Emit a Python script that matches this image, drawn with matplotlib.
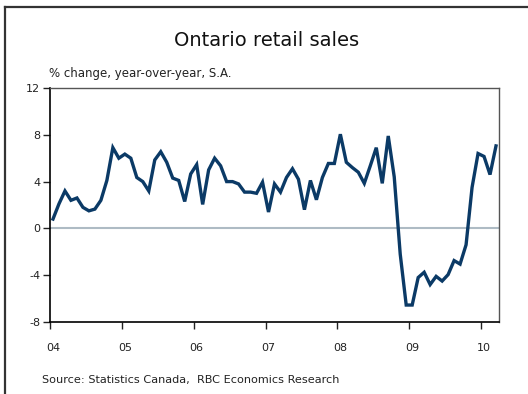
import numpy as np
import matplotlib
matplotlib.use('Agg')
from matplotlib import pyplot as plt
from matplotlib.lines import Line2D
from matplotlib.transforms import ScaledTranslation

# monthly y/y % change, Jan 2004 - Mar 2010
sales = [0.8, 2.1, 3.2, 2.4, 2.6, 1.8, 1.5, 1.65, 2.4, 4.1, 6.9, 6.0,
         6.35, 6.0, 4.35, 4.0, 3.2, 5.85, 6.55, 5.65, 4.3, 4.1, 2.3, 4.65,
         5.45, 2.05, 5.0, 6.0, 5.35, 4.0, 4.0, 3.8, 3.1, 3.1, 3.0, 3.95,
         1.4, 3.8, 3.1, 4.35, 5.1, 4.2, 1.6, 4.1, 2.45, 4.35, 5.55, 5.55,
         8.05, 5.65, 5.2, 4.8, 3.85, 5.35, 6.9, 3.85, 7.9, 4.4, -2.2, -6.55,
         -6.55, -4.2, -3.75, -4.8, -4.1, -4.5, -3.95, -2.75, -3.05, -1.4, 3.5, 6.4,
         6.15, 4.6, 7.05]
year_labels = ['04', '05', '06', '07', '08', '09', '10']
y_ticks = [-8, -4, 0, 4, 8, 12]

months = np.arange(len(sales)) + 0.5

fig = plt.figure(figsize=(5.28, 3.94), dpi=100)
# outer frame, only left and top edges fall inside the image
fx, fy = 5/528, 1 - 7/394
fig.lines.append(Line2D([fx, fx], [0, fy], transform=fig.transFigure, color='#333333', linewidth=1.6))
fig.lines.append(Line2D([fx, 1], [fy, fy], transform=fig.transFigure, color='#333333', linewidth=1.6))

ax = fig.add_axes([50/528, 1 - 322/394, 449/528, 234/394])
ax.axhline(0, color='#aebbc4', linewidth=1.5, zorder=1)
ax.plot(months, sales, color='#0b3a66', linewidth=2.4, solid_joinstyle='miter', zorder=2)

ax.set_xlim(0, 75)
ax.set_ylim(-8, 12)
ax.set_yticks(y_ticks)
ax.set_yticklabels([str(t) for t in y_ticks])
ax.set_xticks(np.arange(len(year_labels)) * 12)
ax.set_xticklabels(year_labels)
ax.tick_params(axis='y', direction='out', length=5, width=1, labelsize=8, colors='#222222', pad=2)
ax.tick_params(axis='x', direction='out', length=5, width=1, labelsize=8, colors='#222222', pad=10)
shift = ScaledTranslation(3/100, 0, fig.dpi_scale_trans)
for lab in ax.get_xticklabels():
    lab.set_transform(lab.get_transform() + shift)
for s in ['left', 'bottom']:
    ax.spines[s].set_color('black')
    ax.spines[s].set_linewidth(1.2)
for s in ['top', 'right']:
    ax.spines[s].set_color('#555555')
    ax.spines[s].set_linewidth(1.0)

fig.text(267/528, 1 - 40/394, 'Ontario retail sales', ha='center', va='center', fontsize=14, color='#111111')
fig.text(49/528, 1 - 73/394, '% change, year-over-year, S.A.', ha='left', va='center', fontsize=8.5, color='#222222')
fig.text(42/528, 1 - 380/394, 'Source: Statistics Canada,  RBC Economics Research', ha='left', va='center',
         fontsize=8.1, color='#222222')

plt.savefig('out.png', dpi=100)
